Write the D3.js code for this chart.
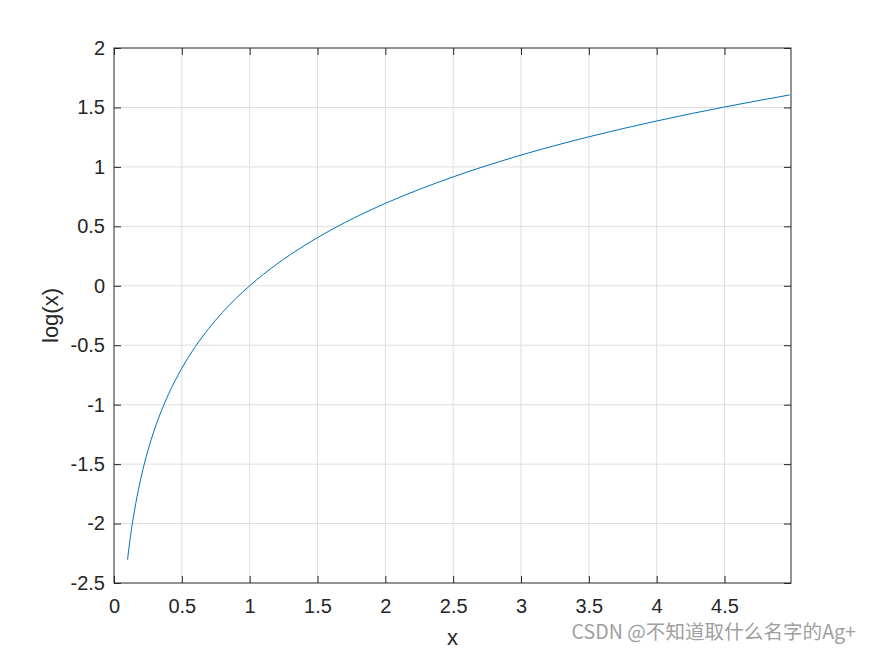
<!DOCTYPE html>
<html>
<head>
<meta charset="utf-8">
<script src="https://cdn.jsdelivr.net/npm/d3@7"></script>
<style>
  html, body { margin: 0; padding: 0; background: #fff; }
  svg { display: block; font-family: "Liberation Sans", Arial, sans-serif; }
</style>
</head>
<body>
<div id="app"></div>
<script>
// x 与 log(x) 的取值
const xValues = [0.1, 0.11, 0.12, 0.14, 0.16, 0.18, 0.2, 0.25, 0.3, 0.35, 0.4, 0.5, 0.6, 0.7, 0.8, 0.9, 1.0,
  1.2, 1.4, 1.6, 1.8, 2.0, 2.5, 3.0, 3.5, 4.0, 4.5, 4.98];
const yValues = [-2.303, -2.207, -2.120, -1.966, -1.833, -1.715, -1.609, -1.386, -1.204, -1.050, -0.916, -0.693,
  -0.511, -0.357, -0.223, -0.105, 0, 0.182, 0.336, 0.470, 0.588, 0.693, 0.916, 1.099, 1.253, 1.386, 1.504, 1.605];
const xTicks = [0, 0.5, 1, 1.5, 2, 2.5, 3, 3.5, 4, 4.5];
const yTicks = [-2.5, -2, -1.5, -1, -0.5, 0, 0.5, 1, 1.5, 2];
const xDomain = [0, 4.99];
const yDomain = [-2.5, 2];

const width = 875, height = 656;
const margin = { top: 48, right: 84, bottom: 73, left: 114 };
const innerW = width - margin.left - margin.right;
const innerH = height - margin.top - margin.bottom;
const axisColor = '#262626';

const svg = d3.select('#app')
  .append('svg')
  .attr('width', width)
  .attr('height', height);

const g = svg.append('g').attr('transform', `translate(${margin.left},${margin.top})`);

const x = d3.scaleLinear().domain(xDomain).range([0, innerW]);
const y = d3.scaleLinear().domain(yDomain).range([innerH, 0]);

// 网格
g.append('g')
  .selectAll('line')
  .data(xTicks.filter(d => d > 0))
  .join('line')
  .attr('x1', d => x(d)).attr('x2', d => x(d))
  .attr('y1', 0).attr('y2', innerH)
  .attr('stroke', '#dfdfdf').attr('stroke-width', 1);

g.append('g')
  .selectAll('line')
  .data(yTicks.filter(d => d > yDomain[0] && d < yDomain[1]))
  .join('line')
  .attr('y1', d => y(d)).attr('y2', d => y(d))
  .attr('x1', 0).attr('x2', innerW)
  .attr('stroke', '#dfdfdf').attr('stroke-width', 1);

// 曲线
const data = xValues.map((v, i) => ({ x: v, y: yValues[i] }));
const line = d3.line()
  .x(d => x(d.x))
  .y(d => y(d.y))
  .curve(d3.curveMonotoneX);

g.append('path')
  .datum(data)
  .attr('fill', 'none')
  .attr('stroke', '#0072BD')
  .attr('stroke-width', 1)
  .attr('d', line);

// 坐标轴
const tickLen = 7;
const fmt = d => String(d);
function styleAxis(sel) {
  sel.select('.domain').remove();
  sel.selectAll('.tick line').attr('stroke', axisColor);
  sel.selectAll('.tick text')
    .attr('fill', axisColor)
    .style('font-size', '20px');
}

g.append('g')
  .attr('transform', `translate(0,${innerH})`)
  .call(d3.axisBottom(x).tickValues(xTicks).tickFormat(fmt).tickSizeInner(-tickLen).tickPadding(16))
  .call(styleAxis);

g.append('g')
  .call(d3.axisTop(x).tickValues(xTicks).tickFormat('').tickSizeInner(-tickLen))
  .call(styleAxis);

g.append('g')
  .call(d3.axisLeft(y).tickValues(yTicks).tickFormat(fmt).tickSizeInner(-tickLen).tickPadding(9))
  .call(styleAxis);

g.append('g')
  .attr('transform', `translate(${innerW},0)`)
  .call(d3.axisRight(y).tickValues(yTicks).tickFormat('').tickSizeInner(-tickLen))
  .call(styleAxis);

// 边框
g.append('rect')
  .attr('width', innerW)
  .attr('height', innerH)
  .attr('fill', 'none')
  .attr('stroke', axisColor)
  .attr('stroke-width', 1);

// 轴标签
svg.append('text')
  .attr('x', margin.left + innerW / 2)
  .attr('y', 645)
  .attr('text-anchor', 'middle')
  .attr('fill', axisColor)
  .style('font-size', '22px')
  .text('x');

svg.append('text')
  .attr('transform', `translate(58,${margin.top + innerH / 2}) rotate(-90)`)
  .attr('text-anchor', 'middle')
  .attr('fill', axisColor)
  .style('font-size', '22px')
  .text('log(x)');

// 水印
svg.append('text')
  .attr('x', 856)
  .attr('y', 639)
  .attr('text-anchor', 'end')
  .attr('fill', '#a0a0a0')
  .style('font-family', '"Noto Sans CJK SC", sans-serif')
  .style('font-size', '19.6px')
  .text('CSDN @不知道取什么名字的Ag+');
</script>
</body>
</html>
